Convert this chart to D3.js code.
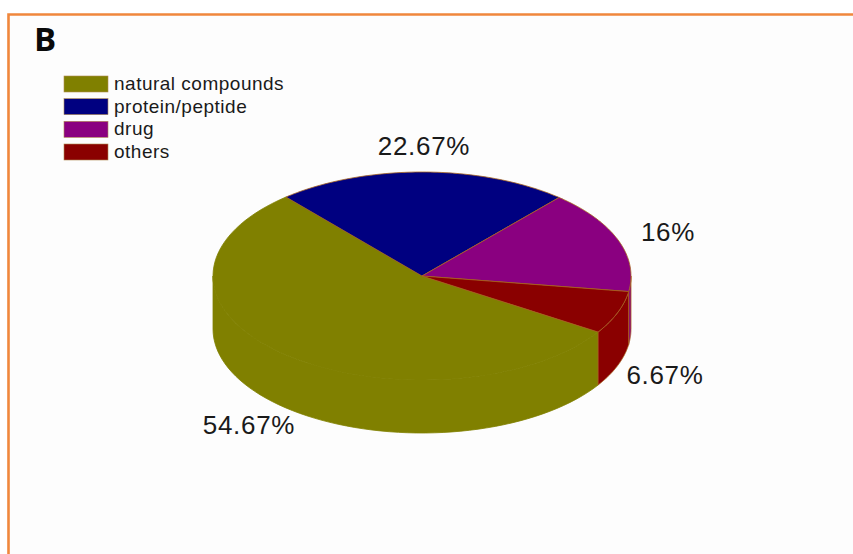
<!DOCTYPE html>
<html>
<head>
<meta charset="utf-8">
<script src="https://cdn.jsdelivr.net/npm/d3@7/dist/d3.min.js"></script>
<style>
  html, body { margin: 0; padding: 0; background: #fff; }
  svg { display: block; }
</style>
</head>
<body>
<svg id="chart" width="853" height="554"></svg>
<script>
// Composition shares, in percent
const categories = ["natural compounds", "protein/peptide", "drug", "others"];
const shares = [54.67, 22.67, 16, 6.67];
const shareLabels = ["54.67%", "22.67%", "16%", "6.67%"];
const colours = ["#808000", "#000080", "#8a0080", "#8a0000"];
const panelLetter = "B";

const svg = d3.select("#chart");
const edge = "#a8651f";
const font = "'Liberation Sans', Arial, sans-serif";

// Panel: off-white ground with an orange frame open at the right and bottom
svg.append("rect").attr("width", 853).attr("height", 554).attr("fill", "#ffffff");
svg.append("rect").attr("x", 8).attr("y", 14).attr("width", 845).attr("height", 540).attr("fill", "#fdfdfd");
svg.append("path").attr("d", "M8.5,554V14.5H853").attr("fill", "none")
  .attr("stroke", "#f0873c").attr("stroke-width", 2.6);

svg.append("text").attr("x", 34).attr("y", 51)
  .attr("font-family", "'Open Sans', sans-serif").attr("font-weight", 700).attr("font-size", 33)
  .attr("fill", "#0a0a0a").text(panelLetter);

// Tilted pie: a unit circle projected onto an ellipse, extruded downward
const cx = 422, cy = 276, rx = 209, ry = 104, depth = 53;
const sx = d3.scaleLinear().domain([-1, 1]).range([cx - rx, cx + rx]);
const sy = d3.scaleLinear().domain([-1, 1]).range([cy - ry, cy + ry]);

const firstAngle = 122.6 * Math.PI / 180;
const pie = d3.pie().sort(null).value(d => d).startAngle(firstAngle).endAngle(firstAngle + 2 * Math.PI);
const slices = pie(shares);

const px = a => sx(Math.sin(a));
const py = a => sy(-Math.cos(a));

// Outer wall of a slice between two pie angles, only for the part facing the viewer
function wallPath(a0, a1) {
  const n = 60;
  const angles = d3.range(n + 1).map(i => a0 + (a1 - a0) * i / n);
  const top = angles.map(a => [px(a), py(a)]);
  const bottom = angles.map(a => [px(a), py(a) + depth]).reverse();
  return d3.line()(top.concat(bottom)) + "Z";
}
function topPath(a0, a1) {
  const n = 80;
  const angles = d3.range(n + 1).map(i => a0 + (a1 - a0) * i / n);
  return "M" + sx(0) + "," + sy(0) + "L" + d3.line()(angles.map(a => [px(a), py(a)])).slice(1) + "Z";
}

const frontStart = Math.PI / 2, frontEnd = 3 * Math.PI / 2;
const walls = svg.append("g");
slices.forEach((s, i) => {
  [0, 2 * Math.PI].forEach(shift => {
    const a0 = Math.max(s.startAngle - shift, frontStart);
    const a1 = Math.min(s.endAngle - shift, frontEnd);
    if (a1 > a0) {
      walls.append("path").attr("d", wallPath(a0, a1))
        .attr("fill", colours[i]).attr("stroke", i === 0 ? colours[i] : edge).attr("stroke-width", 0.8);
    }
  });
});

// The olive slice carries no visible rim; the others show a thin brown edge
svg.append("g").selectAll("path").data(slices).join("path")
  .attr("d", d => topPath(d.startAngle, d.endAngle))
  .attr("fill", (d, i) => colours[i])
  .attr("stroke", (d, i) => i === 0 ? colours[0] : edge)
  .attr("stroke-width", 0.8).attr("stroke-linejoin", "round");

// Percentage labels
const labelAnchors = [[249, 434], [424, 155], [668, 241], [665, 384]];
svg.append("g").selectAll("text").data(shareLabels).join("text")
  .attr("x", (d, i) => labelAnchors[i][0]).attr("y", (d, i) => labelAnchors[i][1])
  .attr("text-anchor", "middle").attr("font-family", font).attr("font-size", 26)
  .attr("letter-spacing", 0.7).attr("fill", "#1a1a1a").text(d => d);

// Legend
const legendY = d3.scalePoint().domain(categories).range([76, 144]);
const legend = svg.append("g").selectAll("g").data(categories).join("g")
  .attr("transform", d => `translate(64,${legendY(d)})`);
legend.append("rect").attr("width", 44).attr("height", 16)
  .attr("fill", (d, i) => colours[i]).attr("stroke", "#b08a50").attr("stroke-width", 0.6);
legend.append("text").attr("x", 50).attr("y", 14)
  .attr("font-family", font).attr("font-size", 19).attr("letter-spacing", 0.5)
  .attr("fill", "#1a1a1a").text(d => d);
</script>
</body>
</html>
